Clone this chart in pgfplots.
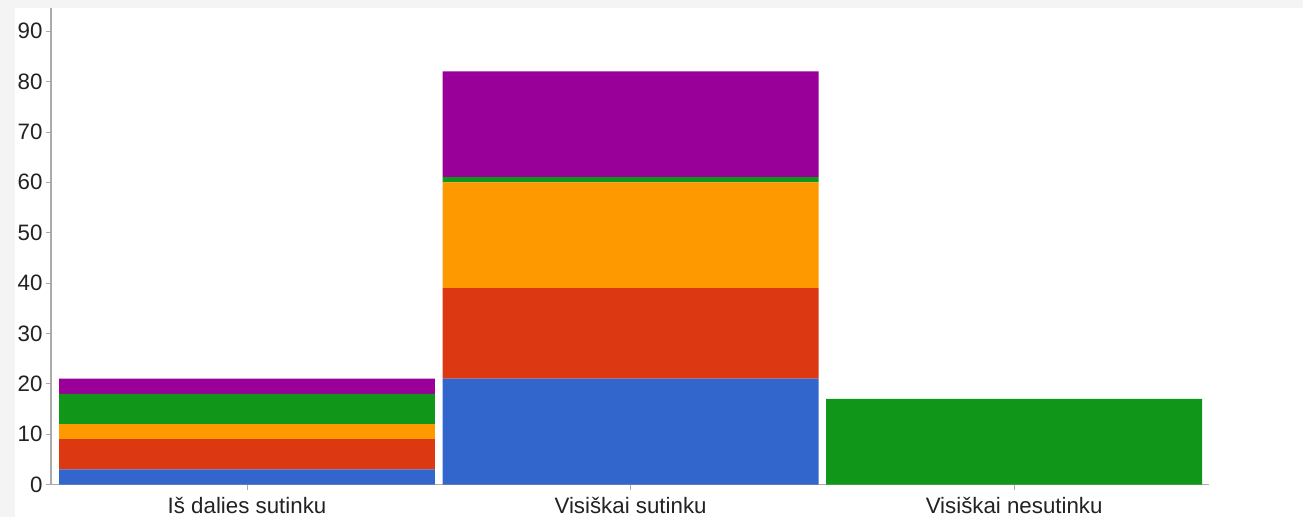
\documentclass[border=0pt]{standalone}
\usepackage{pgfplots}
\pgfplotsset{compat=1.18}
\usepackage{fontspec}
\setmainfont{Liberation Sans}
\definecolor{gblue}{HTML}{3366CC}
\definecolor{gred}{HTML}{DC3912}
\definecolor{gorange}{HTML}{FF9900}
\definecolor{ggreen}{HTML}{109618}
\definecolor{gpurple}{HTML}{990099}
\definecolor{bggray}{HTML}{F4F4F4}
\definecolor{axgray}{HTML}{AAAAAA}
\definecolor{txt}{HTML}{222222}
\begin{document}
\begin{tikzpicture}
\fill[bggray] (0,0) rectangle (1303pt,517pt);
\fill[white] (15pt,0) rectangle (1303pt,509pt);
\begin{axis}[
  at={(51pt,32.5pt)}, anchor=south west,
  scale only axis, width=1158pt, height=476.5pt,
  ybar stacked, bar width=0.98,
  xmin=-0.511, xmax=2.508, ymin=0, ymax=94.6,
  xtick={0,1,2},
  xticklabels={Iš dalies sutinku, Visiškai sutinku, Visiškai nesutinku},
  ytick={0,10,...,90},
  axis x line*=bottom, axis y line*=left,
  axis line style={draw=axgray, line width=1.2pt},
  tick style={draw=axgray, line width=0.8pt},
  major tick length=5pt, tick align=outside,
  ticklabel style={font=\fontsize{22.3}{25}\selectfont, text=txt},
  /pgf/number format/assume math mode=true,
  xticklabel style={yshift=-4pt},
  yticklabel style={xshift=0pt},
]
\addplot[fill=gblue, draw=none] coordinates {(0,3) (1,21) (2,0)};
\addplot[fill=gred, draw=none] coordinates {(0,6) (1,18) (2,0)};
\addplot[fill=gorange, draw=none] coordinates {(0,3) (1,21) (2,0)};
\addplot[fill=ggreen, draw=none] coordinates {(0,6) (1,1) (2,17)};
\addplot[fill=gpurple, draw=none] coordinates {(0,3) (1,21) (2,0)};
\end{axis}
\pgfresetboundingbox
\path[use as bounding box] (0,0) rectangle (1303pt,517pt);
\end{tikzpicture}
\end{document}
